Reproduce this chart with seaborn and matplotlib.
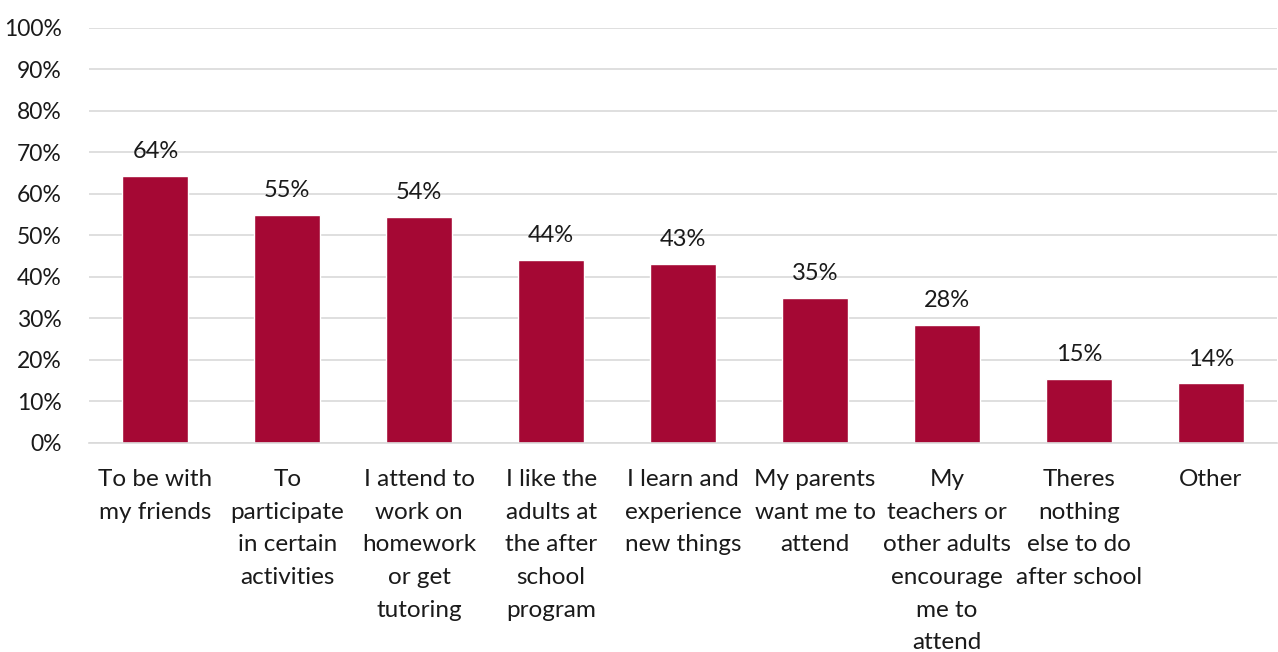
import numpy as np
import pandas as pd
import matplotlib
matplotlib.use('Agg')
import matplotlib.pyplot as plt
import seaborn as sns

# Chart data
categories = [
    'To be with\nmy friends',
    'To\nparticipate\nin certain\nactivities',
    'I attend to\nwork on\nhomework\nor get\ntutoring',
    'I like the\nadults at\nthe after\nschool\nprogram',
    'I learn and\nexperience\nnew things',
    'My parents\nwant me to\nattend',
    'My\nteachers or\nother adults\nencourage\nme to\nattend',
    'Theres\nnothing\nelse to do\nafter school',
    'Other',
]
values = [64.4, 55.0, 54.5, 44.1, 43.2, 35.0, 28.4, 15.5, 14.4]
value_labels = ['64%', '55%', '54%', '44%', '43%', '35%', '28%', '15%', '14%']

df = pd.DataFrame({'reason': categories, 'pct': values})

sns.set_theme(style='white')
plt.rcParams['font.family'] = ['Lato', 'DejaVu Sans']

fig = plt.figure(figsize=(12.78, 6.52), dpi=100)
ax = fig.add_axes([0.070, 0.3206, 0.929, 0.6365])

sns.barplot(data=df, x='reason', y='pct', color='#A50834', width=0.5,
            saturation=1, ax=ax)

# Value labels above bars
for i, (v, lab) in enumerate(zip(values, value_labels)):
    ax.text(i, v + 3.3, lab, ha='center', va='bottom', fontsize=17, color='#1a1a1a')

ax.set_ylim(0, 100)
ax.set_yticks(np.arange(0, 101, 10))
ax.set_yticklabels([f'{t}%' for t in range(0, 101, 10)], fontsize=16.5, color='#1a1a1a')
ax.set_xlim(-0.5, len(categories) - 0.5)
ax.set_xticks(range(len(categories)))
ax.set_xticklabels(categories, fontsize=17.5, color='#1a1a1a', linespacing=1.68, va='top')
ax.tick_params(axis='both', length=0)
ax.tick_params(axis='y', pad=20)
ax.tick_params(axis='x', pad=19)

ax.yaxis.grid(True, color='#D9D9D9', linewidth=1.2)
ax.set_axisbelow(True)
for s in ['top', 'right', 'left']:
    ax.spines[s].set_visible(False)
ax.spines['bottom'].set_color('#D9D9D9')
ax.spines['bottom'].set_linewidth(1.2)

ax.set_xlabel('')
ax.set_ylabel('')

fig.savefig('out.png', dpi=100)
